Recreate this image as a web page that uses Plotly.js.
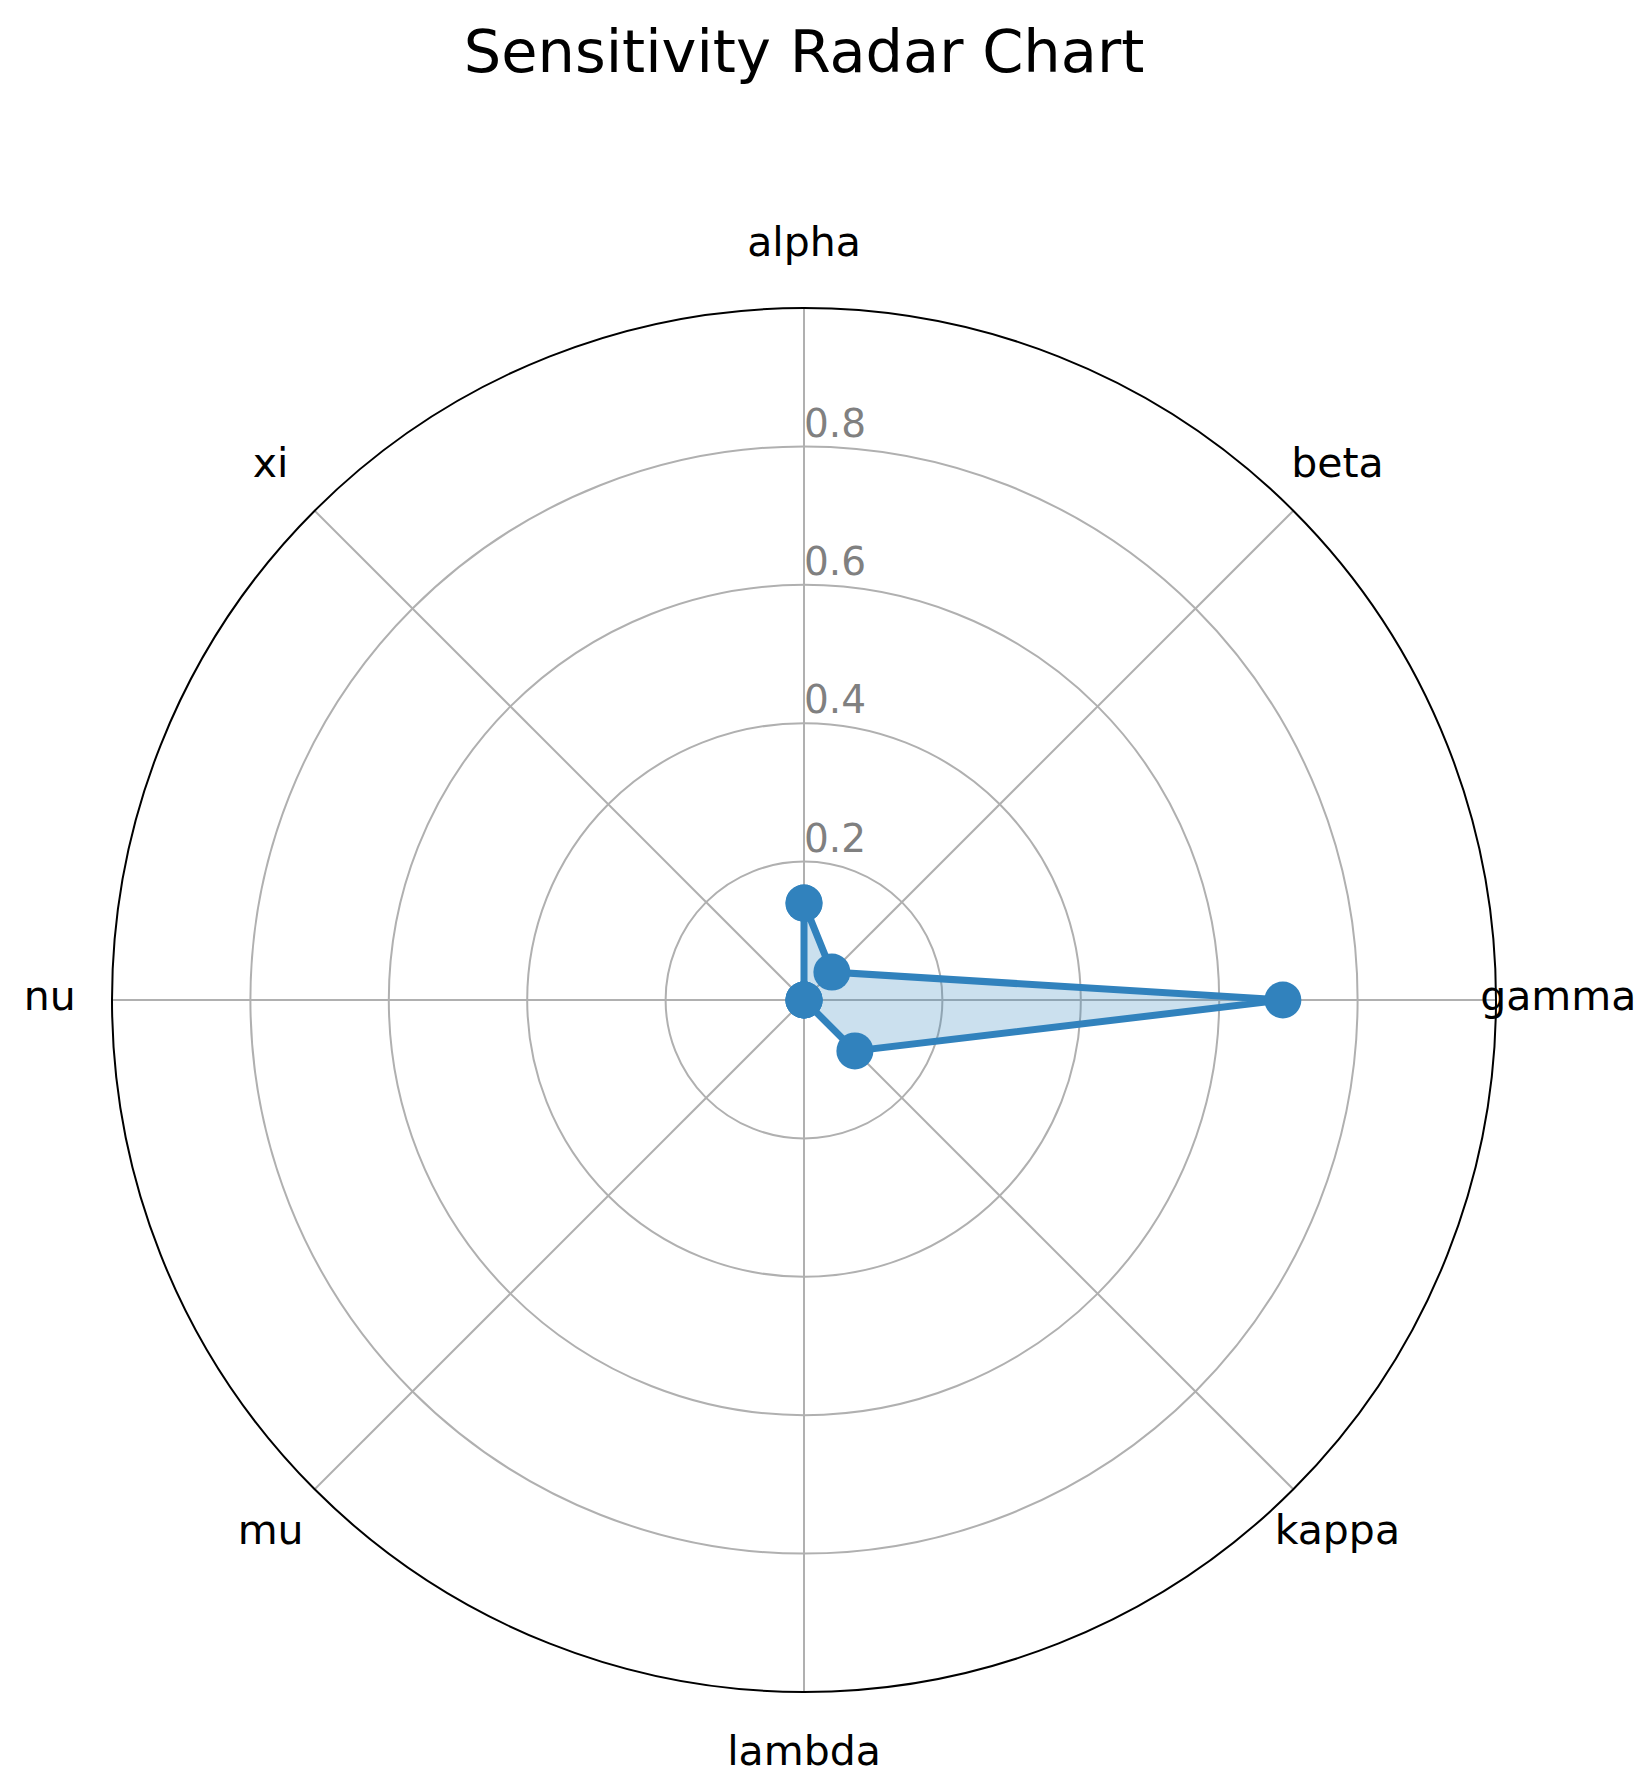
<!DOCTYPE html>
<html>
<head>
<meta charset="utf-8">
<script src="https://cdn.plot.ly/plotly-3.0.1.min.js"></script>
<style>html,body{margin:0;padding:0;background:#fff;}#chart{width:1651px;height:1786px;}</style>
</head>
<body>
<div id="chart"></div>
<script>
const categories = ["alpha", "beta", "gamma", "kappa", "lambda", "mu", "nu", "xi"];
const sensitivity = [0.14, 0.057, 0.692, 0.104, 0.0, 0.0, 0.0, 0.0];
const radialTicks = [0.2, 0.4, 0.6, 0.8];
const radialTickLabels = ["0.2", "0.4", "0.6", "0.8"];

const theta = categories.concat([categories[0]]);
const r = sensitivity.concat([sensitivity[0]]);

// label placement radius (just outside the outer circle, like matplotlib)
const labelRadius = 1.09;
const labelRange = 1.1;

const trace = {
  type: "scatterpolar",
  subplot: "polar",
  r: r,
  theta: theta,
  mode: "lines+markers",
  fill: "toself",
  fillcolor: "rgba(49,130,189,0.25)",
  line: {color: "#3182bd", width: 7},
  marker: {color: "#3182bd", size: 37},
  hoverinfo: "skip"
};

const radialLabels = {
  type: "scatterpolar",
  subplot: "polar",
  r: radialTicks,
  theta: radialTicks.map(() => categories[0]),
  mode: "text",
  text: radialTickLabels,
  textposition: "top right",
  textfont: {family: "DejaVu Sans", size: 39, color: "#808080"},
  cliponaxis: false,
  hoverinfo: "skip"
};

const categoryLabels = {
  type: "scatterpolar",
  subplot: "polar2",
  r: categories.map(() => labelRadius),
  theta: categories,
  mode: "text",
  text: categories,
  textposition: "middle center",
  textfont: {family: "DejaVu Sans", size: 41, color: "#000"},
  cliponaxis: false,
  hoverinfo: "skip"
};

// centre and radius of the main polar area (paper fractions)
const cx = 804 / 1651, cy = 1 - 1000 / 1786;
const rx = 692 / 1651, ry = 692 / 1786;

const angularCommon = {
  type: "category",
  categoryarray: categories,
  rotation: 90,
  direction: "clockwise"
};

const layout = {
  width: 1651,
  height: 1786,
  margin: {l: 0, r: 0, t: 0, b: 0},
  paper_bgcolor: "#ffffff",
  plot_bgcolor: "#ffffff",
  showlegend: false,
  font: {family: "DejaVu Sans", color: "#000"},
  title: {
    text: "Sensitivity Radar Chart",
    font: {family: "DejaVu Sans", size: 59, color: "#000"},
    x: 0.487, xanchor: "center",
    y: 0.971, yanchor: "middle"
  },
  polar: {
    domain: {x: [cx - rx, cx + rx], y: [cy - ry, cy + ry]},
    bgcolor: "#ffffff",
    angularaxis: Object.assign({}, angularCommon, {
      showline: true,
      linecolor: "#000000",
      linewidth: 2,
      showgrid: true,
      gridcolor: "#b0b0b0",
      gridwidth: 2,
      ticks: "",
      showticklabels: false
    }),
    radialaxis: {
      range: [0, 1],
      angle: 90,
      showline: false,
      showgrid: true,
      gridcolor: "#b0b0b0",
      gridwidth: 2,
      tickmode: "array",
      tickvals: radialTicks,
      ticks: "",
      showticklabels: false
    }
  },
  polar2: {
    domain: {x: [cx - rx * labelRange, cx + rx * labelRange], y: [cy - ry * labelRange, cy + ry * labelRange]},
    bgcolor: "rgba(0,0,0,0)",
    angularaxis: Object.assign({}, angularCommon, {
      showline: false, showgrid: false, ticks: "", showticklabels: false
    }),
    radialaxis: {
      range: [0, labelRange],
      visible: false,
      showline: false, showgrid: false, ticks: "", showticklabels: false
    }
  }
};

Plotly.newPlot("chart", [trace, radialLabels, categoryLabels], layout, {staticPlot: true, displayModeBar: false});
</script>
</body>
</html>
